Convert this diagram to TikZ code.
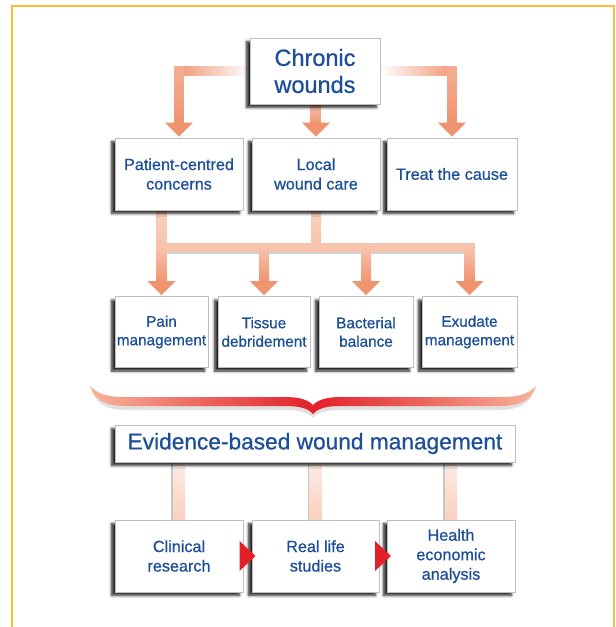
\documentclass[tikz,border=0pt]{standalone}
\usepackage{fontspec}
\setmainfont{Liberation Sans}[FakeBold=0.7]
\usetikzlibrary{calc,shadows.blur}

\definecolor{txt}{HTML}{1C4F98}
\definecolor{sal}{HTML}{F0936F}
\definecolor{sallight}{HTML}{F7C3AC}
\definecolor{peach}{HTML}{FAD0BD}
\definecolor{frame}{HTML}{FDBB33}
\definecolor{brred}{HTML}{E3202A}
\definecolor{brend}{HTML}{F7B59B}

\pgfdeclarehorizontalshading{bracegrad}{100bp}{%
  color(0bp)=(brend); color(25bp)=(brend); color(38bp)=(brend!45!brred);
  color(50bp)=(brred); color(62bp)=(brend!45!brred); color(75bp)=(brend);
  color(100bp)=(brend)}

\pgfdeclarelayer{bg}
\pgfsetlayers{bg,main}

\newcommand\fntA{\fontsize{23.5}{27}\selectfont}
\newcommand\fntB{\fontsize{16.2}{19.5}\selectfont}
\newcommand\fntC{\fontsize{15.3}{18.5}\selectfont}
\newcommand\fntD{\fontsize{22.7}{26}\selectfont}

% arrow head pointing down onto an anchor
\newcommand\downhead[1]{\fill[sal] ($(#1)+(-14,-15)$) -- ($(#1)+(14,-15)$) -- ($(#1)+(0,-1)$) -- cycle;}

\tikzset{
  box/.style={draw=black!25, line width=0.6pt, fill=white, text=txt,
    align=center, inner sep=0pt,
    blur shadow={shadow xshift=-3.5pt, shadow yshift=-3.5pt,
      shadow blur radius=2.5pt, shadow opacity=85, shadow blur steps=6}},
  cue/.style={fill=brred},
}

\begin{document}
\begin{tikzpicture}[x=1pt,y=-1pt]
\useasboundingbox (0,0) rectangle (616,627);

% frame
\draw[frame, line width=2.6pt] (12,640) -- (12,6) -- (614,6) -- (614,640);

% ---------- boxes ----------
\node[box, font=\fntA, minimum width=130pt, minimum height=66pt] (cw) at (315,71) {Chronic\\wounds};

\node[box, font=\fntB, minimum width=128pt, minimum height=72pt] (pc) at (179,174) {Patient-centred\\concerns};
\node[box, font=\fntB, minimum width=128pt, minimum height=72pt] (lw) at (316,174) {Local\\wound care};
\node[box, font=\fntB, minimum width=130pt, minimum height=72pt] (tc) at (452,174) {Treat the cause};

\node[box, font=\fntC, minimum width=93pt, minimum height=71pt] (pm) at (161.5,332) {Pain\\management};
\node[box, font=\fntC, minimum width=92pt, minimum height=71pt] (td) at (264,332) {Tissue\\debridement};
\node[box, font=\fntC, minimum width=94pt, minimum height=71pt] (bb) at (366,332) {Bacterial\\balance};
\node[box, font=\fntC, minimum width=95pt, minimum height=71pt] (em) at (469.5,332) {Exudate\\management};

\node[box, font=\fntD, minimum width=400pt, minimum height=37pt] (ev) at (315,443.5) {Evidence-based wound management};

\node[box, font=\fntB, minimum width=128pt, minimum height=72pt] (cr) at (179,556) {Clinical\\research};
\node[box, font=\fntB, minimum width=127pt, minimum height=72pt] (rl) at (315.5,556) {Real life\\studies};
\node[box, font=\fntB, minimum width=128pt, minimum height=72pt] (he) at (451,556) {Health\\economic\\analysis};

% ---------- connectors ----------
\begin{pgfonlayer}{bg}
  % chronic wounds -> three branches
  \coordinate (cL) at (pc.north |- cw.west);
  \coordinate (cR) at (tc.north |- cw.east);
  \shade[left color=sal, right color=white] ($(cL)+(-4.5,-4.5)$) rectangle ($(cw.west)+(0,4.5)$);
  \shade[top color=sal!75!white, bottom color=sal] ($(cL)+(-4.5,-4.5)$) rectangle ($(pc.north)+(4.5,-14)$);
  \shade[right color=sal, left color=white] ($(cR)+(4.5,-4.5)$) rectangle ($(cw.east)+(0,4.5)$);
  \shade[top color=sal!75!white, bottom color=sal] ($(cR)+(-4.5,-4.5)$) rectangle ($(tc.north)+(4.5,-14)$);
  \shade[top color=sal!55!white, bottom color=sal] ($(cw.south)+(-4.5,0)$) rectangle ($(lw.north)+(4.5,-14)$);
  \downhead{pc.north}
  \downhead{lw.north}
  \downhead{tc.north}

  % patient-centred and local care -> four topics
  \coordinate (bus) at ($(lw.south)+(0,37)$);
  \fill[black!18] ($(pm.north |- bus)+(-4.5,-3)$) rectangle ($(em.north |- bus)+(4.5,6.5)$);
  \shade[top color=sallight!80!white, bottom color=sallight] ($(pm.north |- pc.south)+(-5,0)$) rectangle ($(pm.north |- bus)+(5,4.5)$);
  \shade[top color=sallight!80!white, bottom color=sallight] ($(lw.south)+(-5,0)$) rectangle ($(bus)+(5,4.5)$);
  \fill[sallight] ($(pm.north |- bus)+(-5,-4.5)$) rectangle ($(em.north |- bus)+(5,4.5)$);
  \foreach \t in {pm,td,bb,em}{
    \shade[top color=sallight, bottom color=sal] ($(\t.north |- bus)+(-5,0)$) rectangle ($(\t.north)+(5,-14)$);
    \downhead{\t.north}
  }

  % evidence box -> three kinds of study
  \foreach \t in {cr,rl,he}{
    \fill[black!22] ($(\t.north |- ev.south)+(-8,0)$) rectangle ($(\t.north)+(-5,0)$);
    \shade[top color=peach!40!white, bottom color=peach] ($(\t.north |- ev.south)+(-6,0)$) rectangle ($(\t.north)+(6,0)$);
  }
\end{pgfonlayer}

% cues between the study boxes
\coordinate (q1) at ($(cr.east)!0.5!(rl.west)$);
\coordinate (q2) at ($(rl.east)!0.5!(he.west)$);
\fill[cue] ($(q1)+(-8,-15)$) -- ($(q1)+(8,0)$) -- ($(q1)+(-8,15)$) -- cycle;
\fill[cue] ($(q2)+(-8,-15)$) -- ($(q2)+(8,0)$) -- ($(q2)+(-8,15)$) -- cycle;

% brace gathering the four topics
\fill[black!12] (92,390) .. controls (102,400) and (112,401) .. (130,401) -- (285,401)
  .. controls (300,401) and (308,404) .. (313,409) .. controls (318,404) and (326,401) .. (341,401)
  -- (496,401) .. controls (516,401) and (526,400) .. (534,390)
  .. controls (530,404) and (518,410) .. (500,410) -- (340,410)
  .. controls (328,410) and (318,412) .. (313,418) .. controls (308,412) and (298,410) .. (286,410)
  -- (126,410) .. controls (106,410) and (96,404) .. (92,390) -- cycle;
\shade[shading=bracegrad] (90,386) .. controls (100,396) and (110,397) .. (130,397) -- (285,397)
  .. controls (300,397) and (308,400) .. (313,405) .. controls (318,400) and (326,397) .. (341,397)
  -- (496,397) .. controls (516,397) and (526,396) .. (536,386)
  .. controls (532,400) and (520,406) .. (500,406) -- (340,406)
  .. controls (328,406) and (318,408) .. (313,414) .. controls (308,408) and (298,406) .. (286,406)
  -- (126,406) .. controls (106,406) and (94,400) .. (90,386) -- cycle;
\end{tikzpicture}
\end{document}
